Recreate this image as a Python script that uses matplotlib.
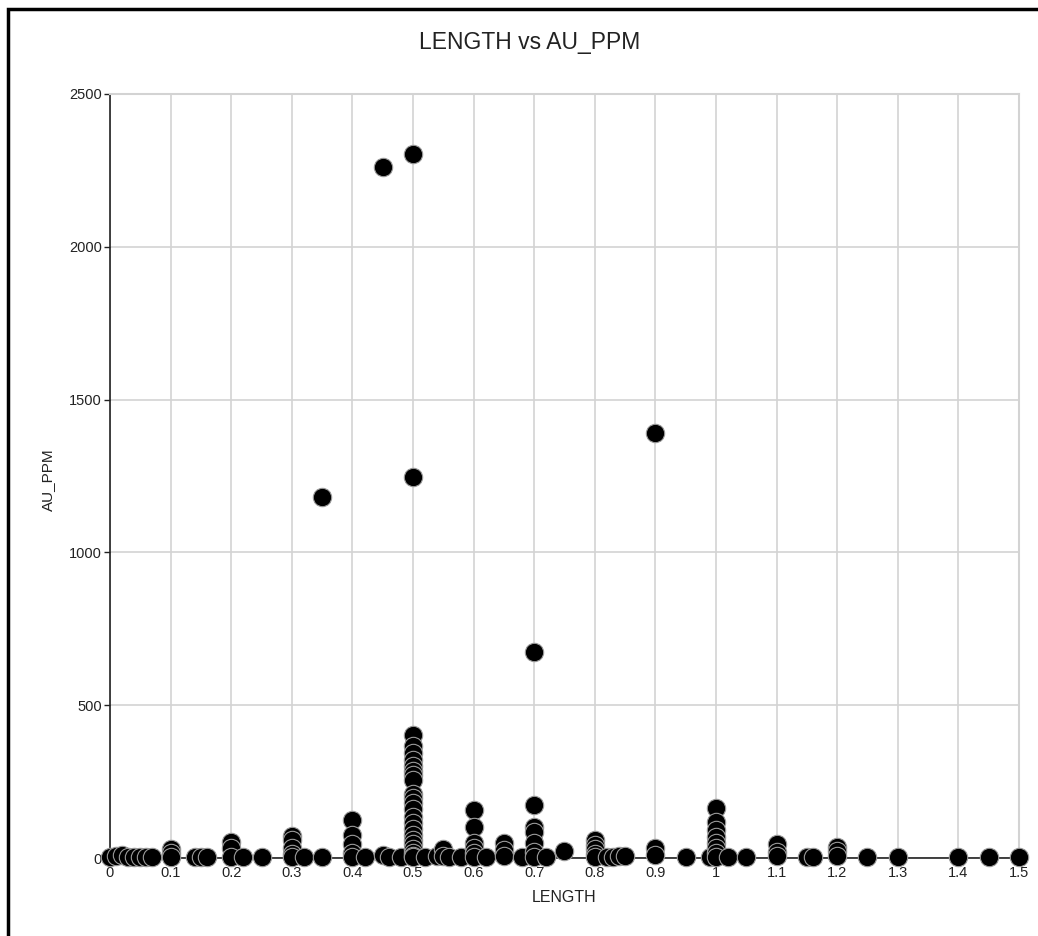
import matplotlib
matplotlib.use("Agg")
import matplotlib.pyplot as plt
from matplotlib.patches import Rectangle

plt.rcParams['font.family'] = ['Liberation Sans', 'DejaVu Sans']

# Sample intervals: LENGTH (m) and gold assay AU_PPM, one line per group
length_vals = [
    0.0, 0.01, 0.02, 0.03, 0.04, 0.05, 0.06, 0.07,
    0.1, 0.1, 0.1,
    0.14, 0.15, 0.16,
    0.2, 0.2, 0.2, 0.22, 0.25,
    0.3, 0.3, 0.3, 0.3, 0.3, 0.32, 0.35, 0.35,
    0.4, 0.4, 0.4, 0.4, 0.4, 0.42, 0.45, 0.45, 0.46, 0.48,
    0.5, 0.5, 0.5, 0.5, 0.5, 0.5, 0.5, 0.5, 0.5, 0.5,
    0.5, 0.5, 0.5, 0.5, 0.5, 0.5, 0.5, 0.5, 0.5, 0.5, 0.5,
    0.5, 0.5, 0.5,
    0.52, 0.54, 0.55, 0.55, 0.56, 0.58,
    0.6, 0.6, 0.6, 0.6, 0.6, 0.6, 0.62, 0.65, 0.65, 0.65,
    0.68, 0.7, 0.7, 0.7, 0.7, 0.7, 0.7, 0.7, 0.72, 0.75,
    0.8, 0.8, 0.8, 0.8, 0.8, 0.82, 0.83, 0.84, 0.85,
    0.9, 0.9, 0.9, 0.95, 0.99,
    1.0, 1.0, 1.0, 1.0, 1.0, 1.0, 1.0, 1.0, 1.02, 1.05,
    1.1, 1.1, 1.1, 1.15, 1.16,
    1.2, 1.2, 1.2, 1.25, 1.3, 1.4, 1.45, 1.5,
]
au_ppm_vals = [
    2, 5, 10, 3, 2, 2, 2, 3,
    30, 15, 3,
    2, 2, 2,
    52, 33, 2, 2, 2,
    72, 58, 33, 12, 2, 2, 2, 1180,
    125, 75, 45, 15, 2, 2, 2262, 10, 2, 2,
    2305, 1247, 402, 365, 345, 320, 300, 285, 270, 255,
    210, 195, 180, 160, 135, 115, 95, 75, 60, 45, 30,
    15, 5, 2,
    2, 5, 30, 5, 3, 2,
    157, 101, 49, 33, 15, 2, 2, 49, 26, 5,
    2, 675, 173, 101, 85, 49, 20, 2, 2, 22,
    59, 43, 28, 12, 3, 2, 3, 5, 8,
    1390, 33, 10, 2, 2,
    164, 118, 92, 69, 49, 33, 16, 3, 2, 2,
    45, 20, 5, 2, 2,
    36, 23, 5, 2, 2, 2, 2, 2,
]

x_ticks = [0, 0.1, 0.2, 0.3, 0.4, 0.5, 0.6, 0.7, 0.8, 0.9, 1.0, 1.1, 1.2, 1.3, 1.4, 1.5]
x_tick_labels = ['0', '0.1', '0.2', '0.3', '0.4', '0.5', '0.6', '0.7', '0.8', '0.9',
                 '1', '1.1', '1.2', '1.3', '1.4', '1.5']
y_ticks = [0, 500, 1000, 1500, 2000, 2500]

W, H = 1038, 936
fig = plt.figure(figsize=(W / 100, H / 100), dpi=100)

# outer frame (top and left edges)
fig.patches.append(Rectangle((8 / W, -0.05), 1.2, (H - 8) / H + 0.05 - 1.5 / H,
                             transform=fig.transFigure, fill=False,
                             edgecolor='black', linewidth=2.5, zorder=0))

ax = fig.add_axes([110 / W, (H - 858) / H, (1019 - 110) / W, (858 - 94) / H])
ax.set_zorder(1)

ax.scatter(length_vals, au_ppm_vals, s=175, color='black',
           edgecolors='#9a9a9a', linewidths=0.8, zorder=3, clip_on=False)

ax.set_xlim(0, 1.5)
ax.set_ylim(0, 2500)
ax.set_xticks(x_ticks)
ax.set_xticklabels(x_tick_labels)
ax.set_yticks(y_ticks)

ax.grid(True, color='#d3d3d3', linewidth=1.2)
ax.set_axisbelow(True)

for side in ('top', 'right'):
    ax.spines[side].set_color('#d3d3d3')
    ax.spines[side].set_linewidth(1.5)
for side in ('left', 'bottom'):
    ax.spines[side].set_color('#222222')
    ax.spines[side].set_linewidth(1.2)

ax.tick_params(axis='both', labelsize=10.5, length=4, width=1, color='#222222',
               labelcolor='#222222', pad=2)

ax.set_xlabel('LENGTH', fontsize=11.5, color='#222222', labelpad=7)
fig.text(48 / W, 1 - 480 / H, 'AU_PPM', rotation=90, fontsize=11,
         color='#222222', ha='center', va='center')

fig.text(530 / W, 1 - 42 / H, 'LENGTH vs AU_PPM', fontsize=16.5,
         color='#222222', ha='center', va='center')

fig.savefig('out.png', dpi=100, facecolor='white')
